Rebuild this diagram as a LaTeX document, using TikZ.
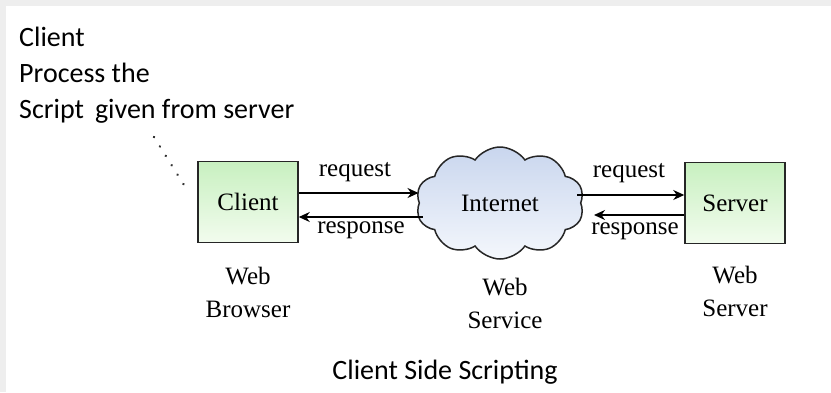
\documentclass[tikz,border=0pt]{standalone}
\usepackage{fontspec}
\setmainfont{Liberation Serif}
\newfontfamily\calib{Carlito}
\usetikzlibrary{shapes.symbols,arrows.meta}
\definecolor{bandgrey}{HTML}{EEEEEE}
\definecolor{boxgreen}{HTML}{C8F0C0}
\definecolor{boxlight}{HTML}{F2FCEE}
\definecolor{cloudblue}{HTML}{C9D6EE}
\definecolor{cloudlight}{HTML}{F4F7FC}
\tikzset{
  box/.style={draw=black!85, line width=1.5pt, minimum width=100pt, minimum height=81pt,
    top color=boxgreen, bottom color=boxlight, font=\fontsize{25}{27}\selectfont, inner sep=0pt},
  cloudnode/.style={cloud, cloud puffs=10, cloud puff arc=110, aspect=1.45, draw=black!85, line width=1.5pt,
    minimum width=168pt, minimum height=112pt, top color=cloudblue, bottom color=cloudlight,
    font=\fontsize{25}{27}\selectfont, inner sep=0pt},
  link/.style={line width=1.5pt, -{Stealth[length=11pt,width=10pt]}},
  lbl/.style={font=\fontsize{25}{27}\selectfont, inner sep=0pt},
  sub/.style={font=\fontsize{25}{33}\selectfont, align=center, inner sep=0pt},
  note/.style={font=\calib\fontsize{28}{36}\selectfont, align=left, inner sep=0pt, anchor=north west},
}
\begin{document}
\begin{tikzpicture}[x=1pt,y=-1pt]
\useasboundingbox (0,0) rectangle (831,392);
\fill[white] (0,0) rectangle (831,392);
\fill[bandgrey] (0,0) rectangle (831,6);
\fill[bandgrey] (0,0) rectangle (6,392);
\node[note] (note) at (19,27) {Client\\Process the\\Script\, given from server};
\coordinate (d1) at (154,137);
\coordinate (d2) at (184,185);
\draw[line width=2.6pt, dash pattern=on 0.1pt off 11pt, line cap=round, black!80] (d1) -- (d2);
\node[box] (client) at (248,202) {Client};
\node[box] (server) at (735,203) {Server};
\node[cloudnode] (net) at (500,203) {Internet};
\coordinate (c1) at (298,193);
\coordinate (c2) at (298,217);
\draw[link] (client.east |- c1) -- (net.west |- c1);
\draw[link] (net.west |- c2) ++(4,0) coordinate (n2) (n2) -- (client.east |- c2);
\coordinate (s1) at (683,195);
\coordinate (s2) at (683,215);
\draw[link] (net.east |- s1) ++(-4,0) coordinate (n3) (n3) -- (server.west |- s1);
\draw[link] (server.west |- s2) -- (594,215) coordinate (n4);
\node[lbl] (req1) at (355,172) {request};
\node[lbl] (res1) at (361,230) {response};
\node[lbl] (req2) at (629,173) {request};
\node[lbl] (res2) at (635,231) {response};
\node[sub] (wb) at (248,292) {Web\\Browser};
\node[sub] (ws) at (505,303) {Web\\Service};
\node[sub] (wsv) at (735,291) {Web\\Server};
\node[font=\calib\fontsize{28}{30}\selectfont, inner sep=0pt] (cap) at (445,372) {Client Side Scripting};
\end{tikzpicture}
\end{document}
